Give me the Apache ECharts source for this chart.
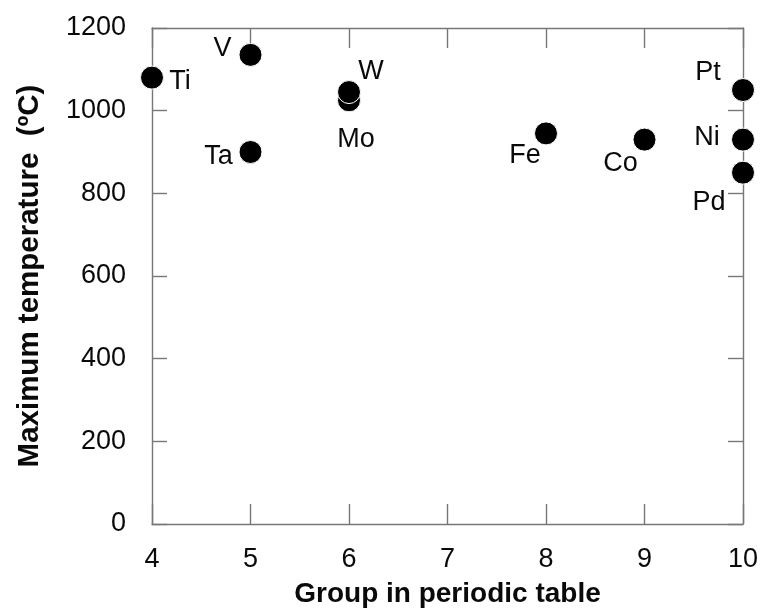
<!DOCTYPE html>
<html>
<head>
<meta charset="utf-8">
<script src="https://cdn.jsdelivr.net/npm/echarts@6/dist/echarts.min.js"></script>
<style>
  html, body { margin: 0; padding: 0; background: #fff; }
  #chart { width: 762px; height: 609px; }
</style>
</head>
<body>
<div id="chart"></div>
<script>
// Maximum temperature by transition metal, grouped by periodic-table group
const elements = ['Ti', 'V', 'Ta', 'Mo', 'W', 'Fe', 'Co', 'Pt', 'Ni', 'Pd'];
const groups = [4, 5, 5, 6, 6, 8, 9, 10, 10, 10];
const maxTemps = [1080, 1135, 900, 1025, 1045, 945, 930, 1050, 930, 850];

const xTicks = [4, 5, 6, 7, 8, 9, 10];
const yTicks = [0, 200, 400, 600, 800, 1000, 1200];

// where each element's label sits relative to its marker (px)
const labelOffsets = {
  Ti: [28, 4], V: [-28, -6], Ta: [-32, 5], Mo: [7, 39], W: [22, -21],
  Fe: [-21, 22], Co: [-24, 24], Pt: [-35, -17], Ni: [-36, -2], Pd: [-34, 30]
};

const axisColor = '#777';
const textColor = '#0a0a0a';
const font = 'Liberation Sans, Arial, sans-serif';

const points = elements.map((el, i) => ({
  name: el,
  value: [groups[i], maxTemps[i]],
  label: { offset: labelOffsets[el] }
}));

function valueAxis(extra) {
  return Object.assign({
    type: 'value',
    splitLine: { show: false },
    axisLine: { show: true, onZero: false, lineStyle: { color: axisColor, width: 1.4 } },
    axisTick: { show: true, inside: true, lineStyle: { color: axisColor, width: 1.4 } }
  }, extra);
}

const chart = echarts.init(document.getElementById('chart'), null, { renderer: 'canvas' });
chart.setOption({
  animation: false,
  backgroundColor: '#fff',
  grid: { left: 152, right: 19, top: 28, bottom: 85, containLabel: false, outerBoundsMode: 'none' },
  xAxis: [
    valueAxis({
      position: 'bottom', min: xTicks[0], max: xTicks[xTicks.length - 1], interval: 1,
      axisTick: { show: true, inside: true, length: 20, lineStyle: { color: axisColor, width: 1.4 } },
      axisLabel: { margin: 22, fontSize: 27, color: textColor, fontFamily: font },
      name: 'Group in periodic table', nameLocation: 'middle', nameGap: 56,
      nameTextStyle: { fontSize: 28, fontWeight: 'bold', color: textColor, fontFamily: font }
    }),
    valueAxis({
      position: 'top', min: xTicks[0], max: xTicks[xTicks.length - 1], interval: 1,
      axisTick: { show: true, inside: true, length: 20, lineStyle: { color: axisColor, width: 1.4 } },
      axisLabel: { show: false }
    })
  ],
  yAxis: [
    valueAxis({
      position: 'left', min: yTicks[0], max: yTicks[yTicks.length - 1], interval: 200,
      axisTick: { show: true, inside: true, length: 15, lineStyle: { color: axisColor, width: 1.4 } },
      axisLabel: { margin: 26, fontSize: 27, color: textColor, fontFamily: font, formatter: v => String(v) },
      name: 'Maximum temperature  (ºC)', nameLocation: 'middle', nameGap: 107,
      nameTextStyle: { fontSize: 29.5, fontWeight: 'bold', color: textColor, fontFamily: font }
    }),
    valueAxis({
      position: 'right', min: yTicks[0], max: yTicks[yTicks.length - 1], interval: 200,
      axisTick: { show: true, inside: true, length: 15, lineStyle: { color: axisColor, width: 1.4 } },
      axisLabel: { show: false }
    })
  ],
  series: [{
    type: 'scatter',
    xAxisIndex: 0,
    yAxisIndex: 0,
    clip: false,
    symbol: 'circle',
    symbolSize: 23,
    itemStyle: { color: '#000', borderColor: '#fff', borderWidth: 1, opacity: 1 },
    label: {
      show: true,
      position: 'inside',
      align: 'center',
      verticalAlign: 'middle',
      formatter: p => p.name,
      fontSize: 27,
      color: textColor,
      fontFamily: font
    },
    emphasis: { disabled: true },
    data: points
  }]
});
</script>
</body>
</html>
